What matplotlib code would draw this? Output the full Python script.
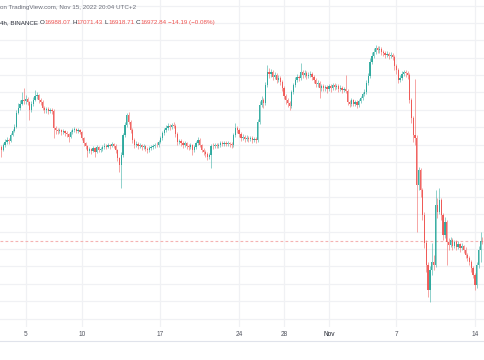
import numpy as np
import pandas as pd
import matplotlib
matplotlib.use("Agg")
import matplotlib.pyplot as plt
import matplotlib.dates as mdates
from matplotlib.lines import Line2D

plt.rcParams["font.family"] = ["Liberation Sans", "DejaVu Sans"]

# ---------------- data (BTCUSDT 4h) ----------------
start_time = "2022-10-02 16:00"
first_open = 19261

closes = [
    19146, 19077, 19192, 19261, 19307, 19284, 19422, 19514, 19606, 19928,
    20043, 20135, 20227, 20204, 20250, 20181, 19997, 20135, 20227, 20319,
    20342, 20227, 20181, 20043, 19997, 20020, 19974, 19997, 19974, 19583,
    19537, 19514, 19537, 19491, 19514, 19468, 19445, 19376, 19491, 19537,
    19560, 19514, 19537, 19491, 19353, 19238, 19169, 19054, 19100, 19054,
    19123, 19031, 19146, 19077, 19100, 19146, 19169, 19146, 19192, 19169,
    19215, 19169, 19077, 18893, 18732, 18962, 19422, 19652, 19882, 19721,
    19537, 19307, 19192, 19215, 19169, 19192, 19146, 19169, 19100, 19077,
    19123, 19146, 19169, 19192, 19185, 19261, 19353, 19468, 19537, 19583,
    19629, 19606, 19652, 19629, 19445, 19261, 19284, 19238, 19192, 19238,
    19169, 19146, 19192, 19077, 19146, 19238, 19307, 19192, 19077, 19031,
    18985, 18916, 18962, 19169, 19165, 19192, 19169, 19192, 19238, 19215,
    19238, 19215, 19238, 19215, 19192, 19422, 19583, 19537, 19445, 19353,
    19376, 19330, 19353, 19330, 19353, 19307, 19330, 19307, 19721, 20112,
    20227, 20158, 20572, 20871, 20825, 20871, 20756, 20802, 20687, 20733,
    20641, 20503, 20319, 20227, 20158, 20089, 20411, 20572, 20687, 20756,
    20733, 20871, 20802, 20848, 20779, 20802, 20825, 20756, 20687, 20595,
    20618, 20503, 20549, 20503, 20526, 20480, 20549, 20503, 20572, 20526,
    20549, 20480, 20503, 20457, 20480, 20434, 20181, 20135, 20227, 20135,
    20181, 20112, 20204, 20273, 20365, 20411, 20618, 20779, 21101, 21239,
    21331, 21423, 21377, 21400, 21331, 21308, 21262, 21285, 21239, 21262,
    21216, 21009, 20917, 20687, 20733, 20825, 20871, 20848, 20802, 20227,
    19813, 19422, 19353, 18272, 18617, 18157, 17582, 16938, 16432, 15857,
    16317, 16501, 16432, 17812, 17651, 17927, 17582, 17122, 17421, 16961,
    16892, 17007, 16869, 16961, 16846, 16915, 16823, 16869, 16777, 16662,
    16593, 16501, 16363, 16202, 15972, 16432, 16777, 16988.07, 16972.84,
]

highs = [
    19307, 19192, 19238, 19330, 19376, 19353, 19468, 19560, 19675, 19997,
    20158, 20227, 20411, 20503, 20342, 20296, 20204, 20204, 20296, 20457,
    20411, 20365, 20273, 20227, 20089, 20066, 20066, 20043, 20043, 20020,
    19629, 19583, 19583, 19560, 19560, 19537, 19514, 19468, 19537, 19583,
    19606, 19583, 19583, 19560, 19514, 19376, 19261, 19192, 19146, 19123,
    19169, 19146, 19192, 19169, 19146, 19192, 19238, 19215, 19238, 19215,
    19261, 19238, 19215, 19100, 18916, 19031, 19468, 19721, 19928, 19951,
    19767, 19583, 19353, 19284, 19261, 19238, 19215, 19215, 19192, 19146,
    19169, 19192, 19215, 19238, 19261, 19307, 19399, 19514, 19583, 19652,
    19698, 19675, 19698, 19721, 19675, 19491, 19330, 19330, 19284, 19284,
    19261, 19215, 19238, 19215, 19192, 19284, 19376, 19353, 19215, 19123,
    19077, 19031, 19008, 19215, 19238, 19238, 19238, 19238, 19284, 19284,
    19284, 19284, 19284, 19261, 19261, 19468, 19698, 19629, 19583, 19491,
    19445, 19422, 19422, 19399, 19399, 19399, 19376, 19376, 19790, 20204,
    20319, 20273, 20641, 21032, 20963, 20940, 20917, 20871, 20848, 20802,
    20779, 20687, 20549, 20365, 20273, 20204, 20457, 20618, 20756, 20825,
    20802, 21078, 20917, 20917, 20894, 20871, 20894, 20871, 20802, 20733,
    20687, 20664, 20595, 20595, 20572, 20572, 20595, 20595, 20618, 20618,
    20595, 20595, 20572, 20549, 20526, 20802, 20480, 20227, 20273, 20250,
    20227, 20227, 20250, 20319, 20411, 20480, 20687, 20848, 21193, 21331,
    21423, 21492, 21469, 21469, 21446, 21377, 21354, 21354, 21331, 21331,
    21308, 21262, 21055, 20963, 20802, 20894, 20917, 20917, 20894, 20848,
    20273, 19859, 20710, 19422, 18686, 18663, 18203, 17651, 17007, 16501,
    16409, 16938, 16662, 18157, 17973, 18203, 17973, 17628, 17536, 17467,
    17053, 17076, 17053, 17007, 17007, 16984, 16938, 16938, 16892, 16846,
    16708, 16639, 16547, 16409, 16248, 16501, 16869, 17191, 17071.43,
]

lows = [
    19077, 18916, 19054, 19146, 19215, 19215, 19261, 19399, 19491, 19583,
    19905, 19997, 20112, 20135, 20135, 20112, 19767, 19951, 20089, 20204,
    20250, 20158, 20112, 19997, 19928, 19928, 19905, 19928, 19905, 19353,
    19445, 19445, 19468, 19422, 19445, 19399, 19376, 19261, 19353, 19445,
    19491, 19468, 19468, 19445, 19307, 19169, 19100, 18916, 19008, 18985,
    19031, 18916, 19008, 19031, 19031, 19054, 19100, 19100, 19123, 19100,
    19146, 19123, 19008, 18824, 18571, 18203, 18916, 19376, 19606, 19675,
    19468, 19238, 19123, 19146, 19100, 19123, 19077, 19100, 19054, 19008,
    19031, 19077, 19100, 19123, 19146, 19146, 19238, 19307, 19422, 19491,
    19537, 19537, 19560, 19583, 19376, 19192, 19215, 19169, 19123, 19146,
    19100, 19077, 19100, 18962, 19031, 19100, 19192, 19146, 19031, 18962,
    18916, 18847, 18870, 18663, 19100, 19123, 19123, 19123, 19146, 19169,
    19169, 19169, 19169, 19146, 19123, 19146, 19376, 19468, 19376, 19284,
    19307, 19261, 19284, 19261, 19284, 19238, 19261, 19238, 19261, 19675,
    20066, 20043, 20112, 20526, 20733, 20756, 20687, 20710, 20618, 20641,
    20572, 20434, 20250, 20135, 20066, 19997, 20043, 20365, 20526, 20641,
    20664, 20687, 20733, 20756, 20710, 20733, 20756, 20687, 20618, 20526,
    20526, 20273, 20434, 20434, 20434, 20388, 20434, 20411, 20457, 20457,
    20480, 20411, 20434, 20388, 20411, 20388, 20112, 20066, 20089, 20089,
    20089, 20043, 20066, 20158, 20227, 20319, 20365, 20572, 20733, 21055,
    21193, 21285, 21308, 21308, 21262, 21239, 21193, 21216, 21170, 21193,
    21147, 20917, 20825, 20618, 20641, 20687, 20779, 20756, 20710, 20158,
    19698, 19261, 19192, 17191, 18157, 17996, 17467, 16823, 16271, 15696,
    15581, 16202, 16317, 16386, 17513, 17605, 17467, 17007, 17053, 16432,
    16777, 16846, 16777, 16823, 16777, 16800, 16731, 16777, 16708, 16593,
    16524, 16432, 16271, 16133, 15857, 15903, 16363, 16500, 16918.71,
]

tick_dates = ["2022-10-05", "2022-10-10", "2022-10-17", "2022-10-24",
              "2022-10-28", "2022-11-01", "2022-11-07", "2022-11-14"]
tick_labels = ["5", "10", "17", "24", "28", "Nov", "7", "14"]
grid_prices = [15200, 15600, 16000, 16400, 16800, 17200, 17600, 18000, 18400,
               18800, 19200, 19600, 20000, 20400, 20800, 21200, 21600, 22000, 22400]

header_line1 = "on TradingView.com, Nov 15, 2022 20:04 UTC+2"
header_symbol = "4h, BINANCE"
ohlc_letters = ["O", "H", "L", "C"]
ohlc_values = ["16988.07", "17071.43", "16918.71", "16972.84"]
change_text = "\u221214.19 (\u22120.08%)"
last_price = 16972.84

# ---------------- drawing ----------------
UP = "#26a69a"
DOWN = "#ef5350"
W, H = 485, 360

closes_a = np.array(closes, dtype=float)
opens_a = np.concatenate([[first_open], closes_a[:-1]])
highs_a = np.maximum.reduce([np.array(highs, float), opens_a, closes_a])
lows_a = np.minimum.reduce([np.array(lows, float), opens_a, closes_a])

times = pd.date_range(start_time, periods=len(closes), freq="4h")
xs = mdates.date2num(times.to_pydatetime())
ref = mdates.date2num(pd.Timestamp("2022-10-05").to_pydatetime())

fig = plt.figure(figsize=(W / 100, H / 100), dpi=100)
fig.patch.set_facecolor("white")
ax_bottom_px = 327
ax = fig.add_axes([0, (H - ax_bottom_px) / H, 1, ax_bottom_px / H])
ax.set_facecolor("white")

ax.set_xlim(ref - 2.2885, ref + 40.899)
ax.set_ylim(15006, 22527)

for s in ax.spines.values():
    s.set_visible(False)

fs = 4.5

# grid
ax.set_yticks(grid_prices)
ax.set_yticklabels([])
ax.tick_params(axis="y", length=0)
tick_x = mdates.date2num([pd.Timestamp(d).to_pydatetime() for d in tick_dates])
ax.set_xticks(tick_x)
ax.set_xticklabels(tick_labels)
ax.tick_params(axis="x", length=0, pad=3.0, labelsize=4.7, colors="#50535e")
for lbl in ax.get_xticklabels():
    if lbl.get_text() == "Nov":
        lbl.set_color("#1e222d")
ax.grid(True, color="#f0f1f4", linewidth=0.9, zorder=0)
ax.set_axisbelow(True)

# current price line
ax.axhline(last_price, color="#f5b3b2", linewidth=0.8, linestyle=(0, (2.5, 2)), zorder=1)

colors = np.where(closes_a >= opens_a, UP, DOWN)
body_w = 0.66 / 6
ax.vlines(xs, lows_a, highs_a, colors=colors, linewidth=0.6, alpha=0.6, zorder=2)
body_h = np.abs(closes_a - opens_a)
body_h = np.maximum(body_h, 12)
body_b = np.minimum(opens_a, closes_a)
ax.bar(xs, body_h, bottom=body_b, width=body_w, color=colors, linewidth=0, alpha=0.9, zorder=3)

# bottom border of time scale
fig.add_artist(Line2D([0, 1], [(H - 341) / H, (H - 341) / H], color="#e0e3eb", linewidth=0.8))

# header texts
def fx(px):
    return px / W

def fy(py):
    return 1 - py / H

fig.text(fx(0), fy(7.5), header_line1, fontsize=fs, color="#6a6d78", va="center", ha="left")

renderer = fig.canvas.get_renderer()
cursor = [0.5]

def put(txt, color, gap_after):
    t = fig.text(fx(cursor[0]), fy(22.5), txt, fontsize=fs, color=color, va="center", ha="left")
    bb = t.get_window_extent(renderer)
    cursor[0] += bb.width + gap_after

put(header_symbol, "#2a2e39", 1.2)
for letter, val in zip(ohlc_letters, ohlc_values):
    put(letter, "#2a2e39", 0.3)
    put(val, DOWN, 1.2)
put(change_text, DOWN, 0)

fig.savefig("out.png", dpi=100, facecolor="white")
